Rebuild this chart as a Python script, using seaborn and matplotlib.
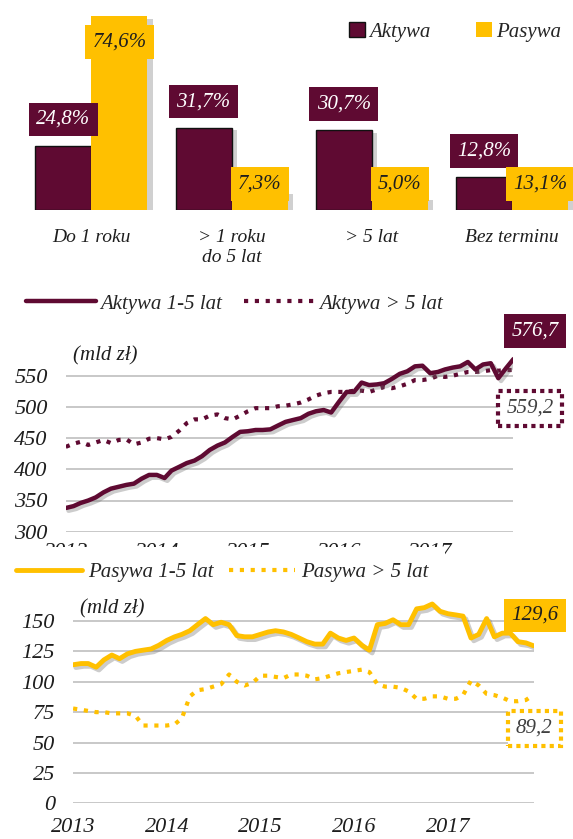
import numpy as np
import pandas as pd
import matplotlib
matplotlib.use("Agg")
import matplotlib.pyplot as plt
import matplotlib.patheffects as pe
from matplotlib.lines import Line2D
from matplotlib.patches import Patch
import seaborn as sns

sns.set_theme(style="white")
plt.rcParams["font.family"] = ["Liberation Serif", "DejaVu Serif"]
plt.rcParams["font.style"] = "italic"

MAROON = "#5f0a32"
GOLD = "#ffc000"
GRID = "#bfbfbf"
TEXT = "#1e1e1e"

# Maturity structure of assets and liabilities (% share)
categories = ["Do 1 roku", "> 1 roku\ndo 5 lat", "> 5 lat", "Bez terminu"]
aktywa_pct = [24.8, 31.7, 30.7, 12.8]
pasywa_pct = [74.6, 7.3, 5.0, 13.1]

# Monthly stocks, mld zł
months = pd.date_range("2013-01-01", periods=60, freq="MS")
aktywa_1_5 = [338, 341, 346, 350, 355, 363, 369, 372, 375, 377,
              385, 391, 391, 386, 398, 404, 410, 414, 421, 431,
              438, 443, 452, 460, 461, 463, 463, 464, 470, 476,
              479, 482, 489, 493, 495, 491, 508, 524, 524, 539,
              535, 536, 538, 545, 553, 557, 565, 566, 554, 556,
              560, 563, 565, 572, 560, 568, 570, 546, 562, 576.7]
aktywa_5 = [436, 441, 444, 439, 443, 447, 442, 447, 448, 440,
            443, 449, 450, 448, 452, 462, 474, 480, 480, 486,
            488, 482, 480, 486, 493, 498, 498, 498, 501, 502,
            504, 507, 512, 518, 522, 524, 524, 524, 526, 526,
            524, 528, 532, 530, 533, 537, 543, 543, 545, 550,
            548, 550, 553, 556, 556, 557, 559, 558, 559, 559.2]
pasywa_1_5 = [114, 115, 115, 112, 118, 122, 119, 123, 125, 126,
              127, 130, 134, 137, 139, 142, 147, 152, 147, 149,
              147, 138, 137, 137, 139, 141, 142, 141, 139, 136,
              133, 131, 131, 140, 136, 134, 136, 130, 126, 147,
              148, 151, 147, 147, 160, 161, 164, 158, 156, 155,
              154, 136, 139, 152, 137, 140, 140, 133, 132, 129.6]
pasywa_5 = [78, 77, 76, 75, 75, 74, 74, 74, 72, 64,
            64, 64, 64, 65, 70, 88, 93, 94, 96, 98,
            106, 100, 97, 99, 105, 105, 104, 103, 106, 106,
            105, 102, 103, 105, 107, 108, 109, 110, 108, 98,
            96, 96, 95, 92, 86, 86, 88, 88, 86, 86,
            89, 101, 97, 90, 89, 87, 84, 84, 85, 89.2]
year_labels = ["2013", "2014", "2015", "2016", "2017"]
aktywa_ticks = [300, 350, 400, 450, 500, 550]
pasywa_ticks = [0, 25, 50, 75, 100, 125, 150]

W, H = 573, 839
fig = plt.figure(figsize=(W / 100, H / 100), dpi=100)

def px_axes(left, top, right, bottom):
    return fig.add_axes([left / W, 1 - bottom / H, (right - left) / W, (bottom - top) / H])

def pct(v):
    return f"{v:.1f}%".replace(".", ",")

def num(v):
    return f"{v:.1f}".replace(".", ",")

# ---------- bar chart ----------
ax1 = px_axes(21.3, 0, 573, 210)
bars = pd.DataFrame({
    "Kategoria": categories * 2,
    "Strona": ["Aktywa"] * 4 + ["Pasywa"] * 4,
    "Udział": aktywa_pct + pasywa_pct,
})
sns.barplot(data=bars, x="Kategoria", y="Udział", hue="Strona",
            palette=[MAROON, GOLD], width=0.8, saturation=1,
            legend=False, ax=ax1)
shadow = [pe.SimplePatchShadow(offset=(4, -2), shadow_rgbFace="#7a7a7a", alpha=0.35), pe.Normal()]
for i, cont in enumerate(ax1.containers):
    for p in cont.patches:
        p.set_path_effects(shadow)
        if i == 0:
            p.set_edgecolor("#111111")
            p.set_linewidth(1.0)
        else:
            p.set_linewidth(0)

for p, v in zip(ax1.containers[0].patches, aktywa_pct):
    ax1.text(p.get_x() + p.get_width() / 2, v + 10, pct(v), ha="center", va="center",
             color="white", fontsize=15, zorder=5, clip_on=False,
             bbox=dict(boxstyle="square,pad=0.35", fc=MAROON, ec="none"))
for p, v in zip(ax1.containers[1].patches, pasywa_pct):
    ax1.text(p.get_x() + p.get_width() / 2, max(v, 20) - 10, pct(v), ha="center", va="center",
             color=TEXT, fontsize=15, zorder=5, clip_on=False,
             bbox=dict(boxstyle="square,pad=0.35", fc=GOLD, ec="none"))

ax1.set_xlim(-0.5, -0.5 + (573 - 21.3) / 140.2)
ax1.set_ylim(0, 210 / 2.6)
ax1.set_xlabel("")
ax1.set_ylabel("")
ax1.set_yticks([])
ax1.tick_params(axis="x", length=0, pad=14, labelsize=14, labelcolor=TEXT)
for s in ax1.spines.values():
    s.set_visible(False)
ax1.legend(handles=[Patch(fc=MAROON, ec="#111111", lw=1), Patch(fc=GOLD, ec="none")],
           labels=["Aktywa", "Pasywa"], loc="center left",
           bbox_to_anchor=(349 / W, 1 - 32 / H), bbox_transform=fig.transFigure,
           ncol=2, frameon=False, fontsize=15, handlelength=0.75, handleheight=0.75,
           handletextpad=0.2, columnspacing=2.2, borderpad=0, borderaxespad=0)

# ---------- line charts ----------
line_shadow = [pe.SimpleLineShadow(offset=(2, -2), shadow_color="#6e6e6e", alpha=0.35), pe.Normal()]
DOT = (0, (1, 1.6))

def style_lines(ax, ticks, ylim, xpad):
    ax.set_ylim(*ylim)
    ax.set_yticks(ticks)
    ax.set_xlim(months[0], months[-1])
    ax.set_xticks(months[::12])
    ax.set_xticklabels(year_labels)
    ax.yaxis.grid(True, color=GRID, lw=1.2)
    ax.xaxis.grid(False)
    ax.tick_params(length=0, labelsize=16, labelcolor=TEXT)
    ax.tick_params(axis="y", pad=13)
    ax.tick_params(axis="x", pad=xpad)
    ax.set_xlabel("")
    ax.set_ylabel("")
    for s in ax.spines.values():
        s.set_visible(False)
    ax.text(0.016, 0.94, "(mld zł)", transform=ax.transAxes, fontsize=15,
            color=TEXT, ha="left", va="center")

ax2 = px_axes(65.8, 344.5, 513.5, 531.7)
sns.lineplot(x=months, y=aktywa_5, ax=ax2, color=MAROON, lw=3, linestyle=DOT)
sns.lineplot(x=months, y=aktywa_1_5, ax=ax2, color=MAROON, lw=3.2,
             path_effects=line_shadow)
style_lines(ax2, aktywa_ticks, (300, 600), 8)
ax2.annotate(num(aktywa_1_5[-1]), xy=(months[-1], aktywa_1_5[-1]), xytext=(21.5, 28),
             textcoords="offset pixels", ha="center", va="center", color="white",
             fontsize=15, annotation_clip=False, zorder=6,
             bbox=dict(boxstyle="square,pad=0.35", fc=MAROON, ec="none"))
ax2.annotate(num(aktywa_5[-1]), xy=(months[-1], aktywa_5[-1]), xytext=(16.5, -38.5),
             textcoords="offset pixels", ha="center", va="center", color="#404040",
             fontsize=15, annotation_clip=False, zorder=6,
             bbox=dict(boxstyle="square,pad=0.4", fc="white", ec=MAROON, lw=3, ls=(0, (1, 1))))

ax3 = px_axes(73.1, 596.7, 533.6, 803.3)
sns.lineplot(x=months, y=pasywa_5, ax=ax3, color=GOLD, lw=3, linestyle=DOT)
sns.lineplot(x=months, y=pasywa_1_5, ax=ax3, color=GOLD, lw=3.5,
             path_effects=line_shadow)
style_lines(ax3, pasywa_ticks, (0, 170), 10.5)
ax3.annotate(num(pasywa_1_5[-1]), xy=(months[-1], pasywa_1_5[-1]), xytext=(1, 30.5),
             textcoords="offset pixels", ha="center", va="center", color=TEXT,
             fontsize=15, annotation_clip=False, zorder=6,
             bbox=dict(boxstyle="square,pad=0.35", fc=GOLD, ec="none"))
ax3.annotate(num(pasywa_5[-1]), xy=(months[-1], pasywa_5[-1]), xytext=(0.7, -33.5),
             textcoords="offset pixels", ha="center", va="center", color="#404040",
             fontsize=15, annotation_clip=False, zorder=6,
             bbox=dict(boxstyle="square,pad=0.4", fc="white", ec=GOLD, lw=3, ls=(0, (1, 1))))

# ---------- legends of the line charts ----------
fig.legend(handles=[Line2D([], [], color=MAROON, lw=3.2),
                    Line2D([], [], color=MAROON, lw=3, ls=DOT)],
           labels=["Aktywa 1-5 lat", "Aktywa > 5 lat"], loc="center left",
           bbox_to_anchor=(25.6 / W, 1 - 304 / H), ncol=2, frameon=False,
           fontsize=15, handlelength=3.4, handletextpad=0.2, columnspacing=1.05,
           borderpad=0, borderaxespad=0)
fig.legend(handles=[Line2D([], [], color=GOLD, lw=3.5),
                    Line2D([], [], color=GOLD, lw=3, ls=DOT)],
           labels=["Pasywa 1-5 lat", "Pasywa > 5 lat"], loc="center left",
           bbox_to_anchor=(0, 1 - 572 / H), ncol=2, frameon=True, facecolor="white",
           edgecolor="none", framealpha=1, fancybox=False,
           fontsize=15, handlelength=3.2, handletextpad=0.3, columnspacing=0.7,
           borderpad=0.75, borderaxespad=0)

fig.savefig("out.png", dpi=100)
